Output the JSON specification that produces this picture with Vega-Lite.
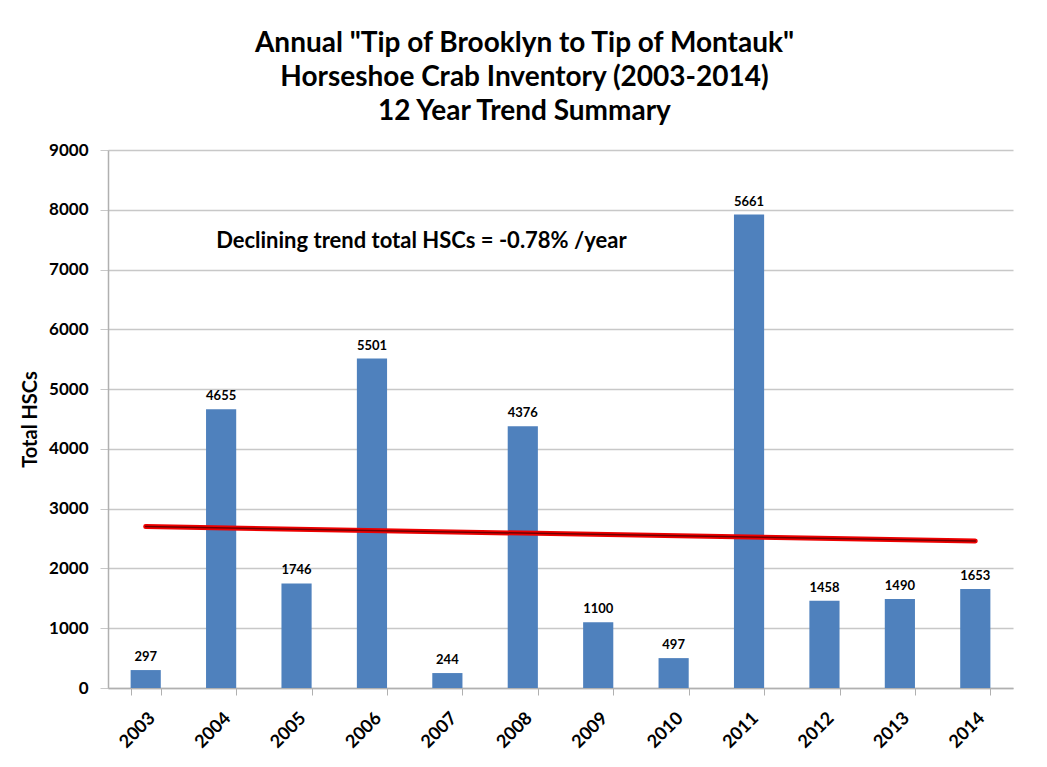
{
  "$schema": "https://vega.github.io/schema/vega-lite/v6.json",
  "autosize": {"type": "none"},
  "width": 905,
  "height": 538,
  "padding": {"left": 108, "top": 150, "right": 34, "bottom": 79},
  "background": "white",
  "config": {
    "font": "Lato",
    "view": {"stroke": null}
  },
  "title": {
    "text": ["Annual \"Tip of Brooklyn to Tip of Montauk\"", "Horseshoe Crab Inventory (2003-2014)", "12 Year Trend Summary"],
    "anchor": "middle",
    "frame": "group",
    "dx": -36,
    "fontSize": 28,
    "fontWeight": "bold",
    "lineHeight": 34,
    "offset": 15,
    "color": "#000000",
    "font": "Lato"
  },
  "datasets": {
    "bars": [
      {"year": "2003", "value": 300, "label": "297"},
      {"year": "2004", "value": 4665, "label": "4655"},
      {"year": "2005", "value": 1750, "label": "1746"},
      {"year": "2006", "value": 5510, "label": "5501"},
      {"year": "2007", "value": 250, "label": "244"},
      {"year": "2008", "value": 4380, "label": "4376"},
      {"year": "2009", "value": 1100, "label": "1100"},
      {"year": "2010", "value": 500, "label": "497"},
      {"year": "2011", "value": 7920, "label": "5661"},
      {"year": "2012", "value": 1460, "label": "1458"},
      {"year": "2013", "value": 1490, "label": "1490"},
      {"year": "2014", "value": 1655, "label": "1653"}
    ],
    "trend": [
      {"year": "2003", "trend": 2700},
      {"year": "2014", "trend": 2460}
    ],
    "note": [
      {"year": "2004", "y": 7480, "text": "Declining trend total HSCs = -0.78% /year"}
    ]
  },
  "layer": [
    {
      "data": {"name": "bars"},
      "mark": {"type": "bar", "color": "#4f81bd"},
      "encoding": {
        "x": {
          "field": "year", "type": "ordinal",
          "scale": {"paddingInner": 0.6, "paddingOuter": 0.3},
          "axis": {
            "title": null,
            "labelAngle": -45,
            "labelFontSize": 18,
            "labelFontWeight": "bold",
            "labelColor": "#000000",
            "labelPadding": 14,
            "tickBand": "extent",
            "tickSize": 7,
            "tickColor": "#b0b0b0",
            "domainColor": "#b0b0b0",
            "domainWidth": 1.5
          }
        },
        "y": {
          "field": "value", "type": "quantitative",
          "scale": {"domain": [0, 9000], "nice": false},
          "axis": {
            "title": "Total HSCs",
            "titleFontSize": 20,
            "titleFontWeight": "bold",
            "titleColor": "#000000",
            "titlePadding": 8,
            "values": [0, 1000, 2000, 3000, 4000, 5000, 6000, 7000, 8000, 9000],
            "format": "d",
            "labelFontSize": 17,
            "labelFontWeight": "bold",
            "labelColor": "#000000",
            "labelPadding": 12,
            "tickSize": 8,
            "tickColor": "#c8c8c8",
            "gridColor": "#c8c8c8",
            "gridWidth": 1.3,
            "domainColor": "#b0b0b0",
            "domainWidth": 1.5
          }
        }
      }
    },
    {
      "data": {"name": "bars"},
      "mark": {"type": "text", "fontSize": 13, "fontWeight": "bold", "color": "#000000", "baseline": "bottom", "dy": -6},
      "encoding": {
        "x": {"field": "year", "type": "ordinal"},
        "y": {"field": "value", "type": "quantitative"},
        "text": {"field": "label"}
      }
    },
    {
      "data": {"name": "trend"},
      "mark": {"type": "line", "color": "#ee0000", "strokeWidth": 5, "strokeCap": "round"},
      "encoding": {
        "x": {"field": "year", "type": "ordinal"},
        "y": {"field": "trend", "type": "quantitative"}
      }
    },
    {
      "data": {"name": "trend"},
      "mark": {"type": "line", "color": "#700000", "strokeWidth": 1.5, "strokeCap": "round"},
      "encoding": {
        "x": {"field": "year", "type": "ordinal"},
        "y": {"field": "trend", "type": "quantitative"}
      }
    },
    {
      "data": {"name": "note"},
      "mark": {"type": "text", "fontSize": 22, "fontWeight": "bold", "color": "#000000", "align": "left", "baseline": "middle", "dx": -5},
      "encoding": {
        "x": {"field": "year", "type": "ordinal"},
        "y": {"field": "y", "type": "quantitative"},
        "text": {"field": "text"}
      }
    }
  ]
}
